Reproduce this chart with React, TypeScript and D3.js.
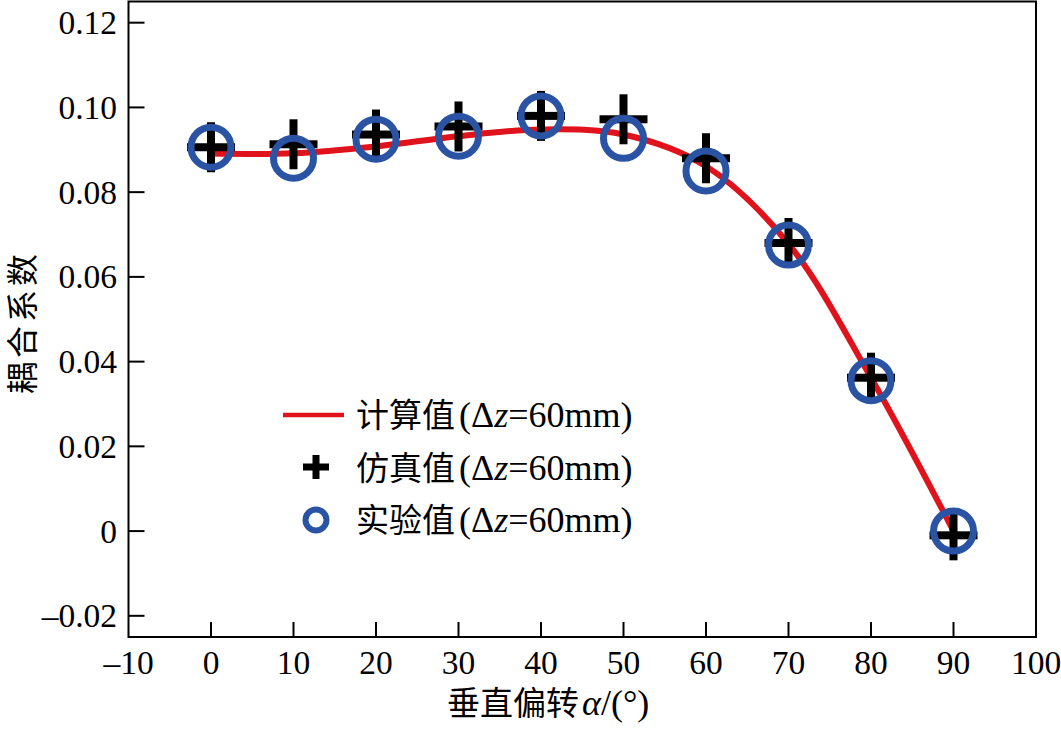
import React from "react";
import * as d3 from "d3";

const angles = [0, 10, 20, 30, 40, 50, 60, 70, 80, 90];
const calcValues = [0.0891, 0.0892, 0.0908, 0.0932, 0.0948, 0.0936, 0.0861, 0.0678, 0.0362, 0.0];
const simValues = [0.0906, 0.0913, 0.0936, 0.0955, 0.098, 0.0972, 0.088, 0.068, 0.0362, -0.001];
const expValues = [0.0906, 0.088, 0.0925, 0.0932, 0.098, 0.0927, 0.085, 0.0675, 0.0355, 0.0];
const xTicks = [-10, 0, 10, 20, 30, 40, 50, 60, 70, 80, 90, 100];
const yTicks = [-0.02, 0, 0.02, 0.04, 0.06, 0.08, 0.1, 0.12];
const legendLabels = ["计算值", "仿真值", "实验值"];
const legendSuffix = "=60mm)";

const W = 1061;
const H = 733;
const L = 128.5;
const R = 1036;
const T = 1.5;
const B = 637;

const RED = "#e0121b";
const BLUE = "#2a54a3";
const LATIN = "'Liberation Serif', 'Times New Roman', serif";
const CJKF = "'Noto Sans CJK SC', sans-serif";

function fmtY(v: number): string {
  if (Math.abs(v) < 1e-9) return "0";
  const s = Math.abs(v).toFixed(2);
  return v < 0 ? "\u2013" + s : s;
}
function fmtX(v: number): string {
  return v < 0 ? "\u2013" + Math.abs(v) : String(v);
}

function Cross({ x, y, hw, hh, t }: { x: number; y: number; hw: number; hh: number; t: number }) {
  return (
    <g fill="#000">
      <rect x={x - hw} y={y - t / 2} width={hw * 2} height={t} />
      <rect x={x - t / 2} y={y - hh} width={t} height={hh * 2} />
    </g>
  );
}

export default function App() {
  const x = d3.scaleLinear().domain([-10, 100]).range([L, R]);
  const y = d3.scaleLinear().domain([-0.025, 0.125]).range([B, T]);
  const line = d3
    .line<number>()
    .x((_, i) => x(angles[i]))
    .y((d) => y(d))
    .curve(d3.curveCatmullRom.alpha(0.5));

  return (
    <svg width={W} height={H} style={{ position: "absolute", left: 0, top: 0, background: "#fff" }}>
      <rect x={0} y={0} width={W} height={H} fill="#fff" />
      {/* ticks */}
      {yTicks.map((t) => (
        <g key={"y" + t}>
          <line x1={L} x2={L + 16} y1={y(t)} y2={y(t)} stroke="#000" strokeWidth={2} />
          <text x={117} y={y(t) + 11.5} textAnchor="end" fontFamily={LATIN} fontSize={33.5} fill="#000">
            {fmtY(t)}
          </text>
        </g>
      ))}
      {xTicks.map((t) => (
        <g key={"x" + t}>
          {t > -10 && t < 100 && (
            <line x1={x(t)} x2={x(t)} y1={B} y2={B - 15} stroke="#000" strokeWidth={2} />
          )}
          <text x={x(t)} y={674} textAnchor="middle" fontFamily={LATIN} fontSize={33.5} fill="#000">
            {fmtX(t)}
          </text>
        </g>
      ))}
      {/* frame */}
      <rect x={L} y={T} width={R - L} height={B - T} fill="none" stroke="#000" strokeWidth={2} />

      {/* series */}
      <path d={line(calcValues) || ""} fill="none" stroke={RED} strokeWidth={6} />
      {simValues.map((v, i) => (
        <Cross key={"s" + i} x={x(angles[i])} y={y(v)} hw={24} hh={25} t={8} />
      ))}
      {expValues.map((v, i) => (
        <circle key={"e" + i} cx={x(angles[i])} cy={y(v)} r={20} fill="none" stroke={BLUE} strokeWidth={7} />
      ))}

      {/* legend */}
      <line x1={283} x2={344} y1={415} y2={415} stroke={RED} strokeWidth={4.5} />
      <Cross x={316} y={467} hw={13} hh={12} t={7} />
      <circle cx={316} cy={520} r={10.5} fill="none" stroke={BLUE} strokeWidth={6} />
      {legendLabels.map((lab, i) => (
        <text key={lab} x={356} y={427 + i * 52.5} fontFamily={LATIN} fontSize={36} fill="#000">
          <tspan fontFamily={CJKF} fontSize={33}>{lab}</tspan>
          <tspan dx={4}>(Δ</tspan>
          <tspan fontStyle="italic">z</tspan>
          <tspan>{legendSuffix}</tspan>
        </text>
      ))}

      {/* axis titles */}
      <text x={447} y={715} fontFamily={LATIN} fontSize={36} fill="#000">
        <tspan fontFamily={CJKF} fontSize={33}>垂直偏转</tspan>
        <tspan fontStyle="italic" dx={3}>α</tspan>
        <tspan>/(°)</tspan>
      </text>
      <text
        transform={`translate(34, 322) rotate(-90)`}
        textAnchor="middle"
        fontFamily={CJKF}
        fontSize={32}
        letterSpacing={4}
        fill="#000"
      >
        耦合系数
      </text>
    </svg>
  );
}
